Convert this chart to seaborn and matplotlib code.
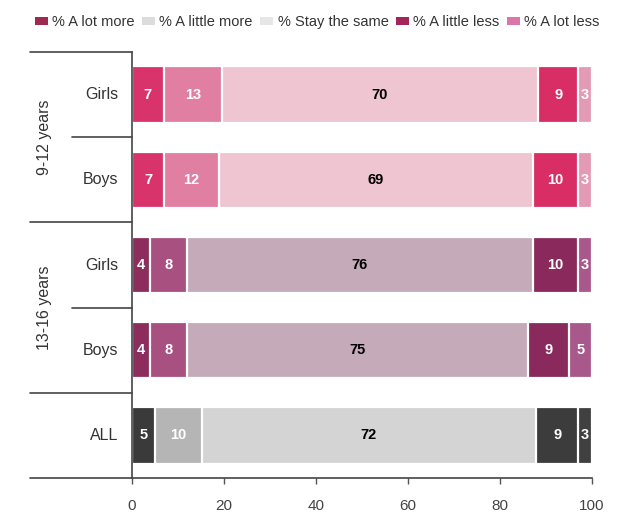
import numpy as np
import pandas as pd
import matplotlib
matplotlib.use("Agg")
import matplotlib.pyplot as plt
import seaborn as sns
from matplotlib.patches import Patch
from matplotlib.lines import Line2D

sns.set_theme(style="white")
plt.rcParams['font.family'] = ['Liberation Sans', 'DejaVu Sans']

# ---- data ----
rows = ["Girls 9-12", "Boys 9-12", "Girls 13-16", "Boys 13-16", "ALL"]
row_labels = ["Girls", "Boys", "Girls", "Boys", "ALL"]
categories = ["% A lot more", "% A little more", "% Stay the same", "% A little less", "% A lot less"]
lot_more = [7, 7, 4, 4, 5]
little_more = [13, 12, 8, 8, 10]
stay_same = [70, 69, 76, 75, 72]
little_less = [9, 10, 10, 9, 9]
lot_less = [3, 3, 3, 5, 3]
groups = ["9-12 years", "13-16 years"]

# ---- colours (per row, per category) ----
pink = ["#d8336a", "#e07fa1", "#eec5d1", "#d92d66", "#e39ab5"]
purple = ["#8c2d5e", "#a8507f", "#c5abb9", "#8a2a5c", "#a8588b"]
grey = ["#3a3a3a", "#b5b5b5", "#d4d4d4", "#3c3c3c", "#404040"]
row_colors = [pink, pink, purple, purple, grey]
legend_colors = ["#9e2a52", "#dcdcdc", "#e6e6e6", "#a3265a", "#d977aa"]

vals = np.array([lot_more, little_more, stay_same, little_less, lot_less], dtype=float).T
shares = vals / vals.sum(axis=1, keepdims=True) * 100
cum = np.cumsum(shares, axis=1)

fig = plt.figure(figsize=(6.22, 5.18), dpi=100)
ax = fig.add_axes([132 / 622, 40 / 518, 460 / 622, 426 / 518])

# draw stacked bars from the rightmost cumulative segment down
for k in range(4, -1, -1):
    df = pd.DataFrame({"row": rows, "end": cum[:, k]})
    pal = {r: row_colors[i][k] for i, r in enumerate(rows)}
    sns.barplot(data=df, x="end", y="row", hue="row", palette=pal, orient="h",
                width=0.66, edgecolor="white", linewidth=1.6, legend=False,
                saturation=1, ax=ax)

# value labels
for i in range(len(rows)):
    starts = np.concatenate([[0], cum[i, :-1]])
    for k in range(5):
        xc = (starts[k] + cum[i, k]) / 2
        color = "black" if k == 2 else "white"
        ax.text(xc, i, f"{int(vals[i, k])}", ha="center", va="center",
                fontsize=10.5, fontweight="bold", color=color)

ax.set_xlim(0, 100)
ax.set_ylim(4.5, -0.5)
ax.set_xlabel("")
ax.set_ylabel("")
ax.set_yticks([])
ax.set_xticks([0, 20, 40, 60, 80, 100])
ax.tick_params(axis="x", bottom=True, length=4, width=1, color="#555555",
               labelsize=11, labelcolor="#444444", pad=11)
for s in ["top", "right"]:
    ax.spines[s].set_visible(False)
for s in ["left", "bottom"]:
    ax.spines[s].set_color("#444444")
    ax.spines[s].set_linewidth(1.2)

# left-hand category structure
trans = ax.get_yaxis_transform()
xa = lambda px: (px - 132) / 460  # figure pixel x to axes fraction
for yb, xs in [(-0.5, 30), (0.5, 72), (1.5, 30), (2.5, 72), (3.5, 30), (4.5, 30)]:
    ax.add_line(Line2D([xa(xs), 0], [yb, yb], transform=trans, color="#444444",
                       lw=1.2, clip_on=False))
for i, lab in enumerate(row_labels):
    ax.text(xa(118), i, lab, transform=trans, ha="right", va="center",
            fontsize=11.5, color="#333333")
ax.text(xa(45), 0.5, groups[0], transform=trans, rotation=90, ha="center",
        va="center", fontsize=11.5, color="#333333")
ax.text(xa(45), 2.5, groups[1], transform=trans, rotation=90, ha="center",
        va="center", fontsize=11.5, color="#333333")

# legend
handles = [Patch(facecolor=c, edgecolor="none") for c in legend_colors]
fig.legend(handles, categories, loc="center", bbox_to_anchor=(0.51, 0.957),
           ncol=5, frameon=False, fontsize=10.5, handlelength=0.9, handleheight=0.5,
           handletextpad=0.3, columnspacing=0.5, labelcolor="#333333")

fig.savefig("out.png", dpi=100)
